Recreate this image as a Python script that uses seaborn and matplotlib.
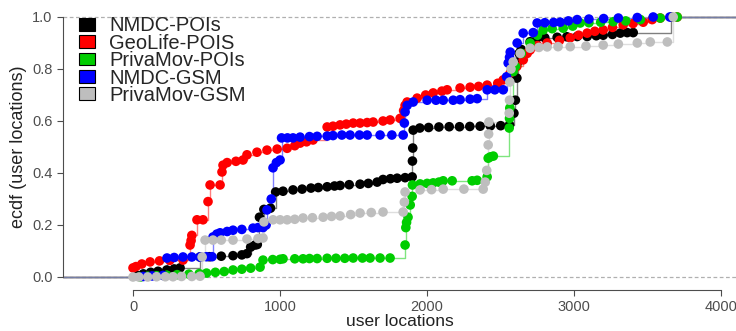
import pandas as pd
import seaborn as sns
import matplotlib.pyplot as plt
from matplotlib.patches import Patch

# ecdf knots (x = user locations, y = ecdf)
series = ['NMDC-POIs', 'GeoLife-POIS', 'PrivaMov-POIs', 'NMDC-GSM', 'PrivaMov-GSM']
colors = ['#000000', '#ff0000', '#00cd00', '#0000ff', '#bebebe']

nmdc_poi_x = [30, 70, 120, 170, 230, 280, 320, 455, 520, 600, 680, 740, 775, 800, 830, 845, 860, 890, 935, 970,
              1020, 1088, 1150, 1210, 1260, 1320, 1370, 1408, 1470, 1544, 1600, 1660, 1700, 1750, 1796, 1850, 1898,
              1900, 1902, 1905, 1950, 2010, 2080, 2150, 2220, 2290, 2360, 2430, 2500, 2560, 2590, 2600, 2610, 2615,
              2625, 2640, 2700, 2748, 2800, 2884, 2950, 3020, 3088, 3150, 3197, 3260, 3313, 3360, 3401, 3660]
nmdc_poi_y = [0.005, 0.012, 0.018, 0.022, 0.027, 0.031, 0.035, 0.077, 0.078, 0.080, 0.082, 0.085, 0.09, 0.115,
              0.123, 0.125, 0.23, 0.26, 0.265, 0.327, 0.330, 0.335, 0.338, 0.342, 0.344, 0.347, 0.350, 0.352, 0.355,
              0.357, 0.360, 0.365, 0.375, 0.378, 0.380, 0.382, 0.385, 0.446, 0.496, 0.565, 0.573, 0.575, 0.577,
              0.578, 0.578, 0.579, 0.58, 0.581, 0.582, 0.585, 0.63, 0.68, 0.765, 0.827, 0.86, 0.875, 0.905, 0.92,
              0.92, 0.922, 0.924, 0.925, 0.925, 0.928, 0.93, 0.933, 0.938, 0.94, 0.94, 1.0]

geolife_x = [0, 20, 60, 116, 180, 250, 340, 388, 395, 400, 435, 476, 510, 524, 592, 605, 612, 640, 700, 748, 775,
             843, 911, 980, 1048, 1100, 1136, 1180, 1224, 1320, 1360, 1408, 1450, 1497, 1544, 1592, 1633, 1700,
             1748, 1816, 1840, 1850, 1864, 1932, 1990, 2041, 2100, 2136, 2224, 2292, 2350, 2408, 2480, 2517, 2565,
             2610, 2653, 2680, 2700, 2750, 2816, 2900, 2973, 3030, 3088, 3140, 3197, 3260, 3333, 3400, 3469, 3530,
             3585, 3700]
geolife_y = [0.035, 0.04, 0.05, 0.058, 0.062, 0.064, 0.065, 0.123, 0.14, 0.16, 0.22, 0.22, 0.29, 0.354, 0.354,
             0.404, 0.43, 0.44, 0.445, 0.45, 0.47, 0.48, 0.488, 0.492, 0.495, 0.505, 0.515, 0.52, 0.527, 0.577,
             0.58, 0.585, 0.588, 0.592, 0.592, 0.594, 0.596, 0.6, 0.604, 0.61, 0.64, 0.66, 0.673, 0.688, 0.7, 0.708,
             0.715, 0.72, 0.727, 0.73, 0.733, 0.738, 0.745, 0.758, 0.785, 0.81, 0.835, 0.86, 0.873, 0.89, 0.9,
             0.91, 0.92, 0.93, 0.938, 0.945, 0.95, 0.96, 0.97, 0.975, 0.98, 0.99, 0.996, 1.0]

privamov_poi_x = [50, 100, 160, 230, 300, 380, 450, 500, 560, 620, 680, 740, 800, 864, 884, 950, 1000, 1020, 1100,
                  1156, 1200, 1252, 1320, 1380, 1440, 1497, 1560, 1612, 1680, 1748, 1850, 1855, 1860, 1870, 1885,
                  1898, 1900, 1952, 2000, 2041, 2080, 2109, 2170, 2306, 2340, 2408, 2415, 2430, 2450, 2558, 2560,
                  2562, 2585, 2600, 2640, 2700, 2750, 2789, 2850, 2925, 2990, 3041, 3100, 3180, 3265, 3350, 3450,
                  3585, 3700]
privamov_poi_y = [0.0, 0.003, 0.005, 0.007, 0.009, 0.011, 0.013, 0.015, 0.018, 0.021, 0.027, 0.03, 0.034, 0.038,
                  0.065, 0.067, 0.068, 0.07, 0.07, 0.07, 0.071, 0.071, 0.072, 0.072, 0.072, 0.073, 0.073, 0.073,
                  0.073, 0.073, 0.123, 0.19, 0.21, 0.23, 0.277, 0.31, 0.354, 0.358, 0.36, 0.362, 0.365, 0.37, 0.37,
                  0.37, 0.372, 0.385, 0.457, 0.462, 0.465, 0.573, 0.61, 0.65, 0.79, 0.81, 0.86, 0.9, 0.93, 0.95,
                  0.955, 0.957, 0.965, 0.977, 0.978, 0.98, 0.982, 0.985, 0.99, 0.996, 1.0]

nmdc_gsm_x = [70, 130, 204, 231, 280, 340, 400, 456, 500, 537, 544, 570, 592, 640, 680, 740, 816, 850, 884, 905,
              911, 940, 952, 975, 1000, 1010, 1050, 1088, 1136, 1200, 1252, 1320, 1360, 1420, 1476, 1540, 1592,
              1680, 1760, 1837, 1845, 1850, 1864, 1905, 2000, 2060, 2109, 2177, 2224, 2292, 2340, 2408, 2460, 2517,
              2540, 2551, 2560, 2565, 2612, 2653, 2721, 2748, 2800, 2860, 2905, 2960, 3020, 3100, 3200, 3300, 3429,
              3537, 3650]
nmdc_gsm_y = [0.002, 0.004, 0.006, 0.073, 0.075, 0.077, 0.077, 0.077, 0.078, 0.078, 0.154, 0.165, 0.17, 0.175,
              0.18, 0.183, 0.188, 0.19, 0.19, 0.2, 0.258, 0.3, 0.42, 0.44, 0.45, 0.535, 0.535, 0.535, 0.538, 0.54,
              0.541, 0.542, 0.544, 0.546, 0.546, 0.546, 0.546, 0.546, 0.546, 0.546, 0.592, 0.635, 0.66, 0.673, 0.68,
              0.68, 0.68, 0.68, 0.682, 0.684, 0.686, 0.72, 0.72, 0.72, 0.77, 0.823, 0.845, 0.865, 0.9, 0.938, 0.94,
              0.977, 0.978, 0.979, 0.98, 0.985, 0.99, 0.992, 0.994, 0.996, 0.998, 1.0, 1.0]

privamov_gsm_x = [0, 40, 100, 160, 220, 272, 330, 400, 456, 470, 490, 544, 600, 680, 775, 850, 884, 890, 952, 1000,
                  1048, 1100, 1156, 1220, 1293, 1350, 1408, 1480, 1544, 1620, 1700, 1837, 1845, 1850, 1952, 2030,
                  2109, 2250, 2381, 2395, 2405, 2415, 2418, 2420, 2558, 2560, 2562, 2570, 2585, 2633, 2700, 2760,
                  2816, 2890, 2973, 3080, 3197, 3300, 3429, 3517, 3633, 3673]
privamov_gsm_y = [0.0, 0.0, 0.0, 0.001, 0.001, 0.001, 0.002, 0.002, 0.003, 0.077, 0.142, 0.142, 0.142, 0.142,
                  0.146, 0.148, 0.15, 0.212, 0.22, 0.22, 0.22, 0.222, 0.227, 0.228, 0.23, 0.233, 0.235, 0.24, 0.246,
                  0.248, 0.25, 0.25, 0.288, 0.327, 0.335, 0.336, 0.338, 0.338, 0.338, 0.365, 0.41, 0.508, 0.55,
                  0.596, 0.63, 0.68, 0.75, 0.8, 0.827, 0.86, 0.88, 0.883, 0.885, 0.886, 0.886, 0.888, 0.892, 0.896,
                  0.9, 0.904, 0.904, 1.0]

xs = [nmdc_poi_x, geolife_x, privamov_poi_x, nmdc_gsm_x, privamov_gsm_x]
ys = [nmdc_poi_y, geolife_y, privamov_poi_y, nmdc_gsm_y, privamov_gsm_y]

XLIM = (-476, 4100)

points = pd.concat([pd.DataFrame({'x': x, 'y': y, 'set': s}) for s, x, y in zip(series, xs, ys)])
# the step line runs out to the panel edges, like ggplot's stat_ecdf padding
steps = pd.concat([pd.DataFrame({'x': [XLIM[0]] + x + [XLIM[1]], 'y': [0.0] + y + [1.0], 'set': s})
                   for s, x, y in zip(series, xs, ys)])
palette = dict(zip(series, colors))

sns.set_style('ticks')
plt.rcParams['font.family'] = ['Liberation Sans', 'DejaVu Sans']

fig = plt.figure(figsize=(7.36, 3.31), dpi=100)
ax = fig.add_axes([63 / 736, 41 / 331, 1 - 63 / 736, 286 / 331])

ax.axhline(0, color='#b0b0b0', ls=(0, (3, 2)), lw=0.9, zorder=0)
ax.axhline(1, color='#b0b0b0', ls=(0, (3, 2)), lw=0.9, zorder=0)

sns.lineplot(data=steps, x='x', y='y', hue='set', palette=palette, hue_order=series, estimator=None,
             sort=False, drawstyle='steps-post', lw=1.0, alpha=0.5, legend=False, ax=ax)
sns.scatterplot(data=points, x='x', y='y', hue='set', palette=palette, hue_order=series, s=48,
                linewidth=0, alpha=1, legend=False, ax=ax, zorder=3)

ax.set_xlim(*XLIM)
ax.set_ylim(-0.05, 1.05)
ax.set_xticks([0, 1000, 2000, 3000, 4000])
ax.set_yticks([0, 0.2, 0.4, 0.6, 0.8, 1.0])
ax.set_yticklabels(['0.0', '0.2', '0.4', '0.6', '0.8', '1.0'])
ax.tick_params(labelsize=10.5, colors='#4d4d4d', length=4, width=0.8)
ax.set_xlabel('user locations', fontsize=12.5, color='#222222', labelpad=0)
ax.set_ylabel('ecdf (user locations)', fontsize=13, color='#222222', labelpad=4)

sns.despine(ax=ax)
ax.spines['left'].set_bounds(0, 1)
ax.spines['bottom'].set_bounds(0, 4000)
for sp in ['left', 'bottom']:
    ax.spines[sp].set_color('#4d4d4d')
    ax.spines[sp].set_linewidth(0.8)

handles = [Patch(facecolor=c, edgecolor='black', linewidth=0.8) for c in colors]
ax.legend(handles, series, loc='upper left', bbox_to_anchor=(0.012, 0.985), frameon=False, fontsize=14.5,
          handlelength=0.8, handleheight=0.6, handletextpad=0.7, labelspacing=-0.08, borderaxespad=0)

fig.savefig('out.png', dpi=100)
